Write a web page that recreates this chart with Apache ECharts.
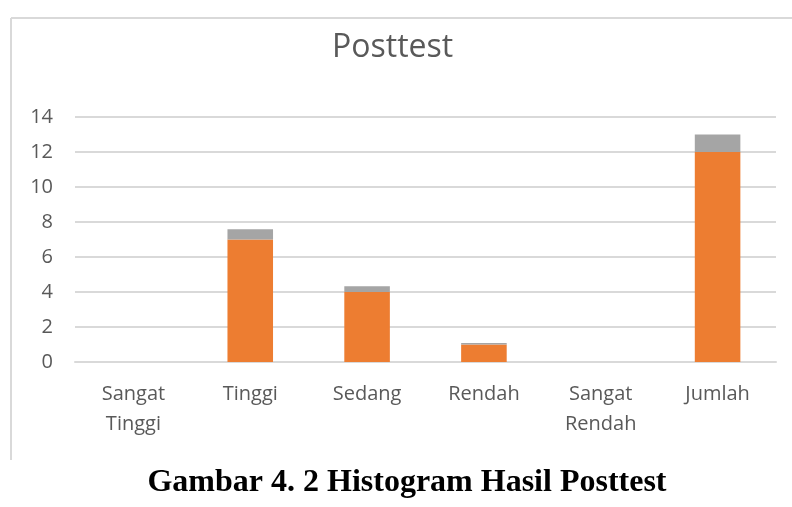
<!DOCTYPE html>
<html>
<head>
<meta charset="utf-8">
<script src="https://cdn.jsdelivr.net/npm/echarts@6/dist/echarts.min.js"></script>
<style>html,body{margin:0;padding:0;background:#fff;}#c{width:792px;height:507px;}</style>
</head>
<body>
<div id="c"></div>
<script>
var categories = ['Sangat\nTinggi', 'Tinggi', 'Sedang', 'Rendah', 'Sangat\nRendah', 'Jumlah'];
var seriesFrekuensi = [0, 7, 4, 1, 0, 12];
var seriesProporsi = [0, 0.58, 0.33, 0.08, 0, 1];
var yTicks = [0, 2, 4, 6, 8, 10, 12, 14];
var chartTitle = 'Posttest';
var caption = 'Gambar 4. 2 Histogram Hasil Posttest';

var chart = echarts.init(document.getElementById('c'), null, {renderer: 'canvas'});
chart.setOption({
  animation: false,
  backgroundColor: '#ffffff',
  title: {
    text: chartTitle,
    left: 327,
    top: 27,
    textStyle: {fontFamily: 'Open Sans', fontSize: 32, fontWeight: 'normal', color: '#595959'}
  },
  grid: {left: 75, right: 16, top: 117, bottom: 145, containLabel: false},
  xAxis: {
    type: 'category',
    data: categories,
    axisLine: {show: true, lineStyle: {color: '#d9d9d9', width: 2}},
    axisTick: {show: false},
    axisLabel: {fontFamily: 'Open Sans', fontSize: 20, color: '#595959', lineHeight: 30, margin: 17}
  },
  yAxis: {
    type: 'value',
    min: yTicks[0],
    max: yTicks[yTicks.length - 1],
    interval: 2,
    axisLine: {show: false},
    axisTick: {show: false},
    splitLine: {lineStyle: {color: '#d9d9d9', width: 2}},
    axisLabel: {fontFamily: 'Open Sans', fontSize: 20, color: '#595959', margin: 22}
  },
  series: [
    {
      type: 'bar', stack: 'a', data: seriesFrekuensi, barWidth: '39%',
      itemStyle: {color: '#ED7D31', borderWidth: 0}
    },
    {
      type: 'bar', stack: 'a', data: seriesProporsi, barWidth: '39%',
      itemStyle: {color: '#A5A5A5', borderWidth: 0}
    }
  ],
  graphic: [
    {type: 'line', shape: {x1: 11, y1: 18, x2: 792, y2: 18}, style: {stroke: '#d9d9d9', lineWidth: 2}},
    {type: 'line', shape: {x1: 11, y1: 18, x2: 11, y2: 460}, style: {stroke: '#d9d9d9', lineWidth: 2}},
    {type: 'text', x: 407, y: 483,
      style: {text: caption, fontFamily: 'Liberation Serif', fontSize: 32, fontWeight: 'bold', fill: '#000000', align: 'center', verticalAlign: 'middle'}}
  ]
});
</script>
</body>
</html>
